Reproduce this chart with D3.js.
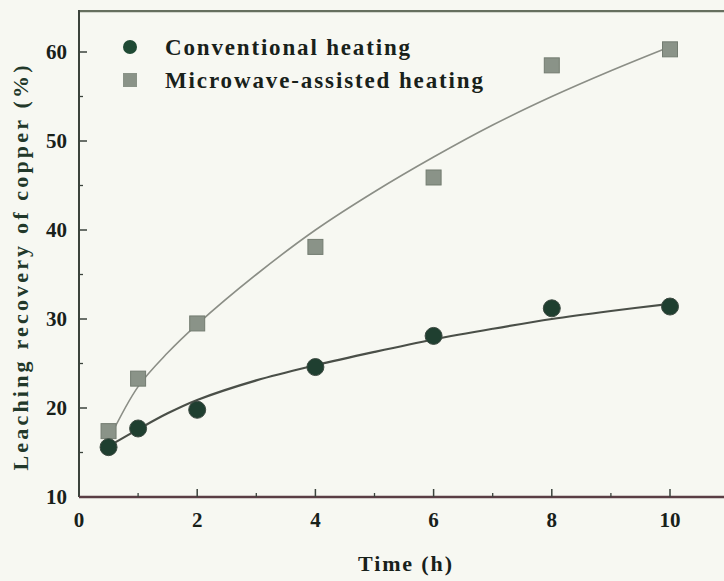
<!DOCTYPE html>
<html>
<head>
<meta charset="utf-8">
<script src="https://cdn.jsdelivr.net/npm/d3@7"></script>
<style>
  html, body { margin: 0; padding: 0; background: #f7f8f2; }
  svg { display: block; }
  text { font-family: "Liberation Serif", "Times New Roman", serif; font-weight: bold; }
</style>
</head>
<body>
<svg id="chart" width="724" height="581"></svg>
<script>
// Leaching time (h)
const times = [0.5, 1, 2, 4, 6, 8, 10];
// Copper leaching recovery (%) for each heating mode
const conventional = [15.6, 17.7, 19.8, 24.6, 28.1, 31.2, 31.4];
const microwave = [17.4, 23.3, 29.5, 38.1, 45.9, 58.5, 60.3];

// Fitted trend curves for each series
const fitTimes = [0.5, 1, 1.5, 2, 3, 4, 5, 6, 7, 8, 9, 10];
const conventionalFit = [15.7, 17.6, 19.4, 20.9, 23.1, 24.8, 26.3, 27.7, 28.9, 30.0, 30.9, 31.7];
const microwaveFit = [16.4, 22.4, 26.2, 29.4, 35.0, 40.0, 44.3, 48.2, 51.8, 55.0, 57.9, 60.6];

// Axis ticks
const xTicks = [0, 2, 4, 6, 8, 10];
const xMinorTicks = [1, 3, 5, 7, 9];
const yTicks = [10, 20, 30, 40, 50, 60];
const yMinorTicks = [15, 25, 35, 45, 55];

const seriesNames = ["Conventional heating", "Microwave-assisted heating"];
const xTitle = "Time (h)";
const yTitle = "Leaching recovery of copper (%)";

const svg = d3.select("#chart");
const left = 79, bottom = 497;

const x = d3.scaleLinear().domain([0, 10]).range([left, 670]);
const y = d3.scaleLinear().domain([10, 60]).range([bottom, 52]);
const yTop = y(64.6);
const xRight = 724;

const ink = "#18211a";

// Frame: top border, left and bottom axes
svg.append("line").attr("x1", left).attr("x2", xRight).attr("y1", yTop).attr("y2", yTop)
  .attr("stroke", "#66705f").attr("stroke-width", 2.2);
svg.append("line").attr("x1", left).attr("x2", left).attr("y1", yTop - 1).attr("y2", bottom)
  .attr("stroke", "#3b433c").attr("stroke-width", 2);
svg.append("line").attr("x1", left).attr("x2", xRight).attr("y1", bottom).attr("y2", bottom)
  .attr("stroke", "#5a3e44").attr("stroke-width", 2.4);

// Tick marks (pointing inward)
const g = svg.append("g");
g.selectAll(".xt").data(xTicks.filter(d => d > 0)).join("line")
  .attr("x1", d => x(d)).attr("x2", d => x(d)).attr("y1", bottom).attr("y2", bottom - 8)
  .attr("stroke", "#3b433c").attr("stroke-width", 1.5);
g.selectAll(".xm").data(xMinorTicks).join("line")
  .attr("x1", d => x(d)).attr("x2", d => x(d)).attr("y1", bottom).attr("y2", bottom - 4)
  .attr("stroke", "#3b433c").attr("stroke-width", 1.3);
g.selectAll(".yt").data(yTicks.filter(d => d > 10)).join("line")
  .attr("x1", left).attr("x2", left + 8).attr("y1", d => y(d)).attr("y2", d => y(d))
  .attr("stroke", "#3b433c").attr("stroke-width", 1.5);
g.selectAll(".ym").data(yMinorTicks).join("line")
  .attr("x1", left).attr("x2", left + 4).attr("y1", d => y(d)).attr("y2", d => y(d))
  .attr("stroke", "#3b433c").attr("stroke-width", 1.3);

// Tick labels
svg.selectAll(".xl").data(xTicks).join("text")
  .attr("x", d => x(d)).attr("y", bottom + 30)
  .attr("text-anchor", "middle").attr("font-size", 21).attr("fill", ink)
  .text(d => d);
svg.selectAll(".yl").data(yTicks).join("text")
  .attr("x", left - 12).attr("y", d => y(d) + 7)
  .attr("text-anchor", "end").attr("font-size", 21).attr("fill", ink)
  .text(d => d);

// Axis titles
svg.append("text").attr("x", 405).attr("y", 571)
  .attr("text-anchor", "middle").attr("font-size", 22).attr("fill", ink)
  .attr("textLength", 94).attr("lengthAdjust", "spacing")
  .text(xTitle);
svg.append("text")
  .attr("transform", `translate(28,${268}) rotate(-90)`)
  .attr("text-anchor", "middle").attr("font-size", 22).attr("fill", "#22382a")
  .attr("textLength", 405).attr("lengthAdjust", "spacing")
  .text(yTitle);

// Fitted curves
const fitLine = d3.line().x(d => x(d[0])).y(d => y(d[1])).curve(d3.curveCatmullRom);
svg.append("path")
  .attr("d", fitLine(d3.zip(fitTimes, microwaveFit)))
  .attr("fill", "none").attr("stroke", "#8b8e86").attr("stroke-width", 1.6);
svg.append("path")
  .attr("d", fitLine(d3.zip(fitTimes, conventionalFit)))
  .attr("fill", "none").attr("stroke", "#4a4f48").attr("stroke-width", 2.2);

// Data markers
svg.selectAll(".sq").data(d3.zip(times, microwave)).join("rect")
  .attr("x", d => x(d[0]) - 7.5).attr("y", d => y(d[1]) - 7.5)
  .attr("width", 15).attr("height", 15)
  .attr("fill", "#8a9388").attr("stroke", "#737c71").attr("stroke-width", 1);
svg.selectAll(".ci").data(d3.zip(times, conventional)).join("circle")
  .attr("cx", d => x(d[0])).attr("cy", d => y(d[1])).attr("r", 8.5)
  .attr("fill", "#1f3f30").attr("stroke", "#3d4a42").attr("stroke-width", 1);

// Legend
const legend = svg.append("g");
legend.append("circle").attr("cx", 130).attr("cy", 47).attr("r", 7)
  .attr("fill", "#1f4a34");
legend.append("rect").attr("x", 123).attr("y", 73).attr("width", 14).attr("height", 14)
  .attr("fill", "#8a9388");
legend.append("text").attr("x", 165).attr("y", 55).attr("font-size", 23).attr("fill", ink)
  .attr("textLength", 245).attr("lengthAdjust", "spacing").text(seriesNames[0]);
legend.append("text").attr("x", 165).attr("y", 88).attr("font-size", 23).attr("fill", ink)
  .attr("textLength", 318).attr("lengthAdjust", "spacing").text(seriesNames[1]);
</script>
</body>
</html>
